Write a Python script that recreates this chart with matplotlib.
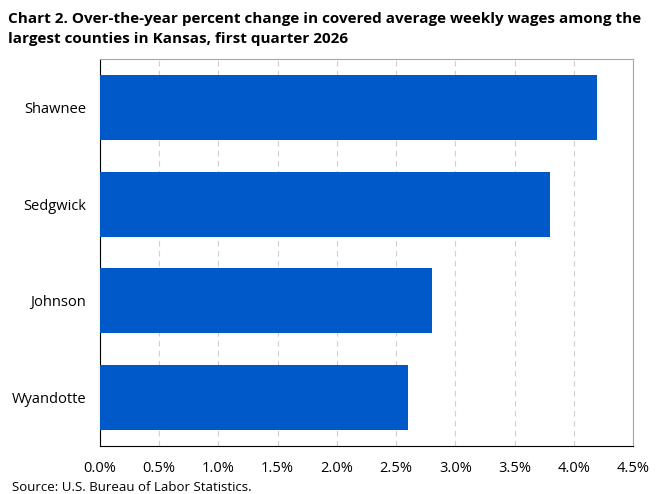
import matplotlib.pyplot as plt
from matplotlib.ticker import FuncFormatter

counties = ['Shawnee', 'Sedgwick', 'Johnson', 'Wyandotte']
pct_change = [4.2, 3.8, 2.8, 2.6]
x_ticks = [0.0, 0.5, 1.0, 1.5, 2.0, 2.5, 3.0, 3.5, 4.0, 4.5]

plt.rcParams['font.family'] = ['Open Sans', 'DejaVu Sans']

fig = plt.figure(figsize=(6.6, 4.94), dpi=100)
ax = fig.add_axes([0.1515, 0.0972, 0.8075, 0.7834])

ax.barh(range(len(counties)), pct_change, height=0.67, color='#0059C9', zorder=3)
ax.set_yticks(range(len(counties)))
ax.set_yticklabels(counties, fontsize=10.5)
ax.set_ylim(3.5, -0.5)
ax.set_xlim(0, 4.5)
ax.set_xticks(x_ticks)
ax.xaxis.set_major_formatter(FuncFormatter(lambda v, p: f'{v:.1f}%'))
ax.tick_params(axis='x', labelsize=10.5, length=0, pad=11)
ax.tick_params(axis='y', length=0, pad=10)
ax.grid(axis='x', color='#D0D0D0', linestyle=(0, (5, 4)), linewidth=0.8, zorder=0)

for side in ['top', 'right']:
    ax.spines[side].set_color('#A6A6A6')
for side in ['left', 'bottom']:
    ax.spines[side].set_color('black')

fig.text(0.012, 0.975, 'Chart 2. Over-the-year percent change in covered average weekly wages among the\nlargest counties in Kansas, first quarter 2026',
         fontsize=11, fontweight='bold', va='top', ha='left', linespacing=1.55)
fig.text(0.018, 0.0, 'Source: U.S. Bureau of Labor Statistics.', fontsize=9.5, va='bottom', ha='left')

fig.savefig('out.png', dpi=100)
